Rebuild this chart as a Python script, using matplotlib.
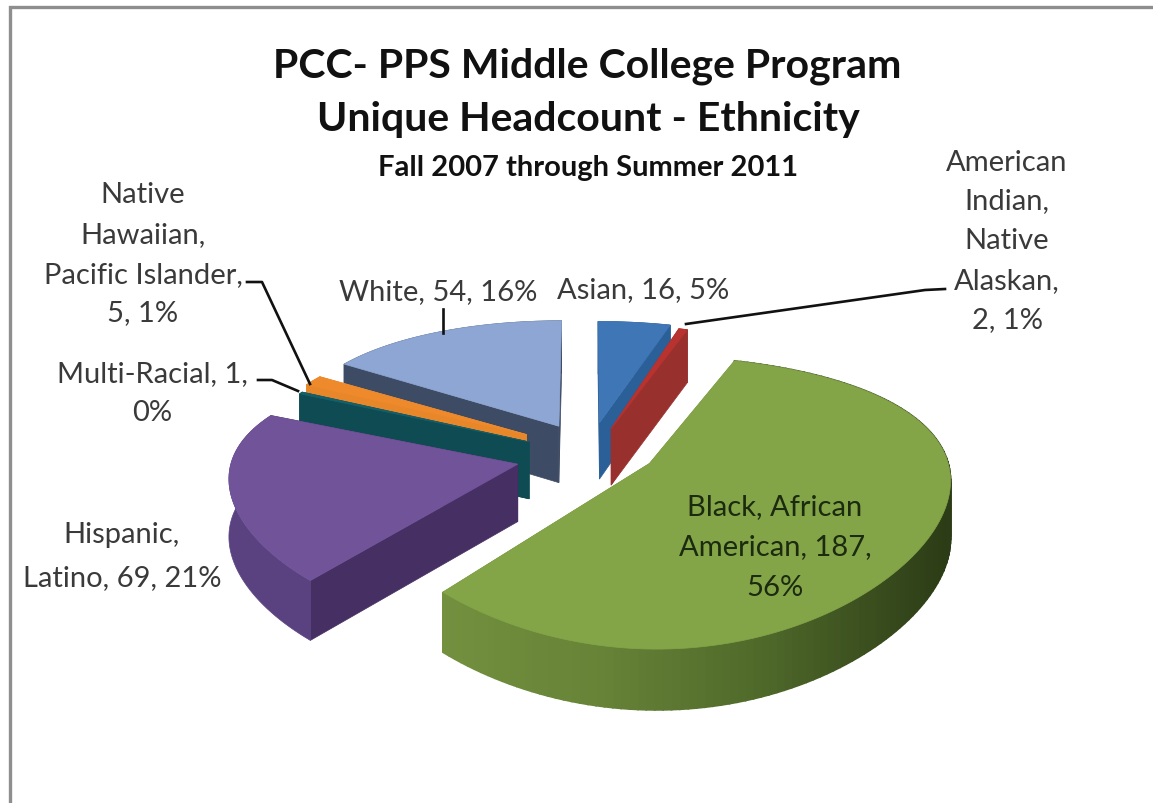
import numpy as np
import matplotlib
matplotlib.use("Agg")
import matplotlib.pyplot as plt
from matplotlib.patches import Polygon

# ---- data ----
categories = ["Asian", "American Indian, Native Alaskan", "Black, African American",
              "Hispanic, Latino", "Multi-Racial", "Native Hawaiian, Pacific Islander", "White"]
counts = [16, 2, 187, 69, 1, 5, 54]
percents = [5, 1, 56, 21, 0, 1, 16]
title_lines = ["PCC- PPS Middle College Program", "Unique Headcount - Ethnicity"]
subtitle = "Fall 2007 through Summer 2011"

# ---- style ----
offset_u = [0.05, 0.09, 0.216, -0.225, -0.19, -0.20, -0.09]
offset_v = [-0.20, -0.15, 0.125, 0.13, -0.04, -0.10, -0.17]
scale_u = [0.93, 0.90, 1.0, 0.96, 0.91, 0.89, 0.93]
scale_v = [1.12, 1.12, 1.0, 0.92, 1.00, 1.03, 1.16]
top_colors = ["#3f76b6", "#b8322f", "#83a548", "#71539a", "#14606b", "#ee8a2c", "#8da6d3"]
wall_colors = ["#2b5f98", "#98302e", "#6f8b3d", "#462f63", "#0f4b52", "#e8862a", "#3e4b64"]
arc_colors = ["#2b5f98", "#98302e", None, "#5a4280", "#0f4b52", "#e8862a", "#3e4b64"]
draw_order = [6, 0, 1, 5, 4, 3, 2]
CX, CY, A, B, PX, PY = 585.0, 448.0, 295.0, 127.5, 0.10, 0.258
DEPTH, DEPTH_K = 57.0, 0.06
TEXT = "#3a3a3a"
plt.rcParams["font.family"] = ["Lato", "DejaVu Sans"]


def project(u, v):
    return CX + A * u / (1 - PX * v), CY + B * v / (1 - PY * v)


def drop(v):
    return DEPTH * (1 + DEPTH_K * v)


fig = plt.figure(figsize=(11.53, 8.04), dpi=100)
ax = fig.add_axes([0, 0, 1, 1])
ax.set_xlim(0, 1153)
ax.set_ylim(804, 0)
ax.axis("off")

# frame of the screenshot
ax.plot([10, 10, 1153], [804, 8, 8], color="#8e8e8e", lw=2.4, solid_joinstyle="miter")

total = sum(counts)
edges = np.concatenate([[0], np.cumsum(counts)]) / total * 2 * np.pi


def green_shade(x):
    stops_x = [445, 600, 760, 945]
    c0 = np.array([[0x73, 0x90, 0x3f], [0x66, 0x83, 0x37], [0x4f, 0x69, 0x2a], [0x2c, 0x3c, 0x16]], float)
    return tuple(np.interp(x, stops_x, c0[:, i]) / 255 for i in range(3))


for i in draw_order:
    z = 2 + draw_order.index(i)
    t0, t1 = edges[i], edges[i + 1]
    ou, ov = offset_u[i], offset_v[i]
    th = np.linspace(t0, t1, max(4, int((t1 - t0) * 40)))
    u = ou + scale_u[i] * np.sin(th)
    v = ov - scale_v[i] * np.cos(th)
    rx, ry = project(u, v)
    ax_, ay_ = project(ou, ov)
    low = ry + drop(v)
    # radial walls
    for k in (0, -1):
        ax.add_patch(Polygon([(ax_, ay_), (rx[k], ry[k]), (rx[k], low[k]), (ax_, ay_ + drop(ov))],
                             closed=True, fc=wall_colors[i], ec=wall_colors[i], lw=0.5, zorder=z))
    # outer wall
    if arc_colors[i] is None:
        for k in range(len(th) - 1):
            c = green_shade((rx[k] + rx[k + 1]) / 2)
            ax.add_patch(Polygon([(rx[k], ry[k]), (rx[k + 1], ry[k + 1]), (rx[k + 1], low[k + 1]), (rx[k], low[k])],
                                 closed=True, fc=c, ec=c, lw=1.2, zorder=z))
    else:
        ax.add_patch(Polygon(np.column_stack([np.r_[rx, rx[::-1]], np.r_[ry, low[::-1]]]), closed=True,
                             fc=arc_colors[i], ec=arc_colors[i], lw=0.5, zorder=z))
    # top face
    ax.add_patch(Polygon(np.column_stack([np.r_[ax_, rx], np.r_[ay_, ry]]), closed=True,
                         fc=top_colors[i], ec=top_colors[i], lw=0.5, zorder=z))

# leader lines
leaders = [([945, 925, 686], [290, 291, 325]),
           ([443, 443], [310, 334]),
           ([247, 262, 310], [283, 283, 385]),
           ([258, 272, 298], [381, 381, 392])]
for xs, ys in leaders:
    ax.plot(xs, ys, color="#111111", lw=1.9, zorder=20)

# titles
ax.text(587, 66, title_lines[0], ha="center", va="center", fontsize=29.5, fontweight="bold", color="#111111", zorder=30)
ax.text(588, 119, title_lines[1], ha="center", va="center", fontsize=29.5, fontweight="bold", color="#111111", zorder=30)
ax.text(588, 168, subtitle, ha="center", va="center", fontsize=21, fontweight="bold", color="#111111", zorder=30)


def label(x, ys, lines, color=TEXT):
    for y, s in zip(ys, lines):
        ax.text(x, y, s, ha="center", va="center", fontsize=21, color=color, zorder=30)


def tail(i):
    return f"{counts[i]}, {percents[i]}%"


label(1007, [163, 201, 241, 281, 320], ["American", "Indian,", "Native", "Alaskan,", tail(1)])
label(143, [195, 235, 275, 313], ["Native", "Hawaiian,", "Pacific Islander,", tail(5)])
label(152, [374, 413], [f"Multi-Racial, {counts[4]},", f"{percents[4]}%"])
label(438, [292], [f"White, {tail(6)}"])
label(643, [290], [f"Asian, {tail(0)}"])
label(122, [535, 578], ["Hispanic,", f"Latino, {tail(3)}"])
label(775, [507, 547, 588], ["Black, African", f"American, {counts[2]},", f"{percents[2]}%"], color="#1c2a10")

fig.savefig("out.png", dpi=100)
